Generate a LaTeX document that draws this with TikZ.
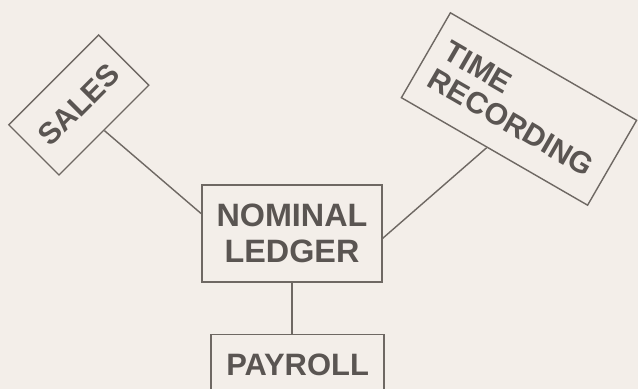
\documentclass[tikz,border=0pt]{standalone}
\usepackage{fontspec}
\setsansfont{Liberation Sans}
\usepackage{tikz}
\usetikzlibrary{positioning, calc}
\usepackage{xcolor}
\definecolor{paper}{HTML}{F3EEE9}
\definecolor{ink}{HTML}{5A5552}
\definecolor{rule}{HTML}{6E6863}
\tikzset{
    module/.style={
        rectangle, draw=rule, line width=1pt,
        text=ink, font=\fontsize{21.5}{22.5}\selectfont\sffamily\bfseries,
        align=center, inner sep=0pt
    },
    link/.style={draw=rule, line width=1pt}
}

\begin{document}
\begin{tikzpicture}
    \fill[paper] (0,0) rectangle (15.95,9.725);
    \clip (0,0) rectangle (15.95,9.725);
    \node[module, minimum width=4.5cm, minimum height=2.425cm,
          font=\fontsize{23}{25.5}\selectfont\sffamily\bfseries] (nl) at (7.3,3.89) {NOMINAL\\LEDGER};
    \node[module, below=1.275cm of nl, xshift=0.14cm, minimum width=4.325cm, inner ysep=0.5cm,
          font=\fontsize{22}{24}\selectfont\sffamily\bfseries] (pay) {PAYROLL};
    \node[module, rotate=45, minimum width=3.175cm, minimum height=1.775cm] (sales) at (1.97,7.1) {SALES};
    \node[module, rotate=-30, minimum width=5.375cm, minimum height=2.45cm, align=left] (time) at (12.975,7.0) {TIME\\RECORDING};
    \draw[link] (sales.south) -- ($(nl.north west)!0.3!(nl.south west)$);
    \draw[link] ($(time.south west)!0.46!(time.south east)$) -- ($(nl.north east)!0.55!(nl.south east)$);
    \draw[link] (nl.south) -- (nl.south |- pay.north);
\end{tikzpicture}
\end{document}
